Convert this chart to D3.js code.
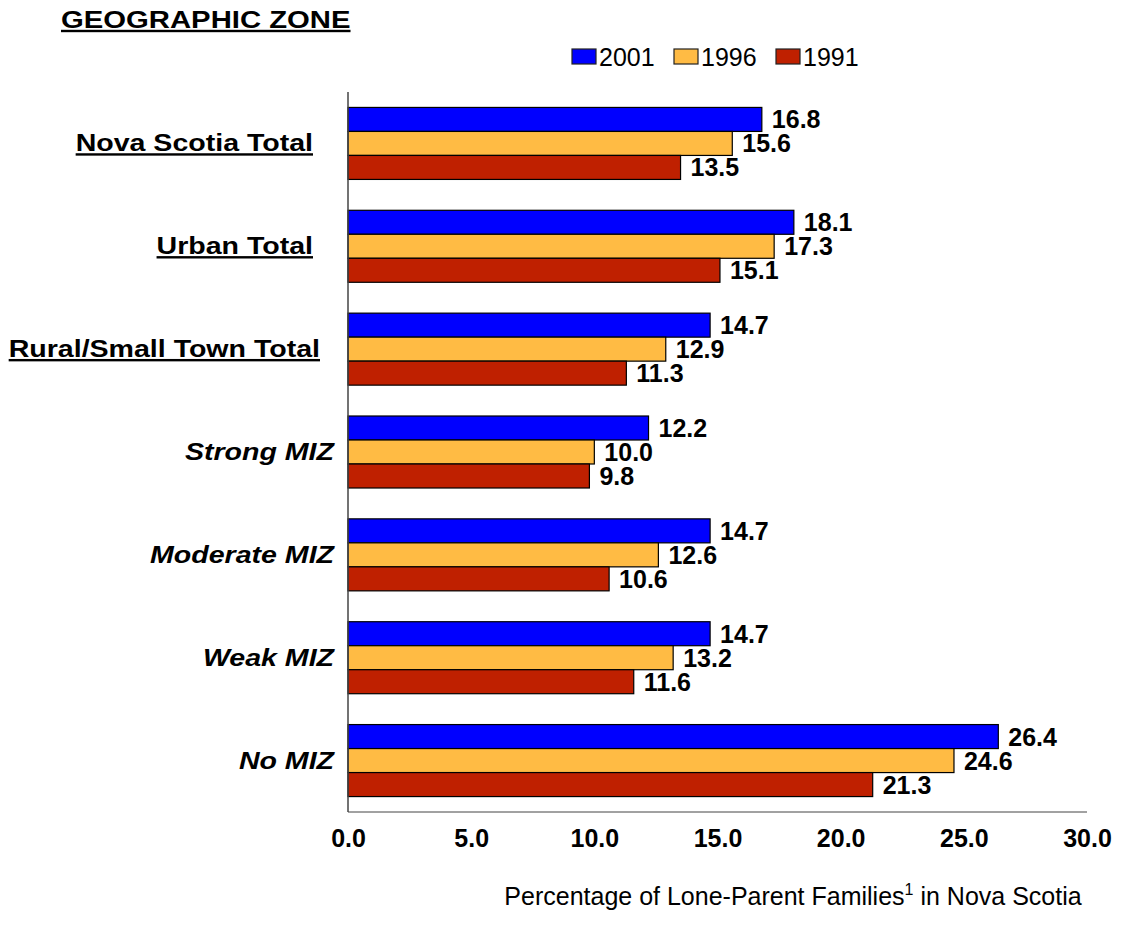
<!DOCTYPE html>
<html>
<head>
<meta charset="utf-8">
<script src="https://cdn.jsdelivr.net/npm/d3@7"></script>
<style>
  html, body { margin: 0; padding: 0; background: #fff; }
  svg { display: block; font-family: "Liberation Sans", Arial, sans-serif; }
</style>
</head>
<body>
<svg id="chart" width="1122" height="943"></svg>
<script>
const categories = ["Nova Scotia Total", "Urban Total", "Rural/Small Town Total", "Strong MIZ", "Moderate MIZ", "Weak MIZ", "No MIZ"];
const categoryStyle = ["total", "total", "total", "miz", "miz", "miz", "miz"];
const seriesNames = ["2001", "1996", "1991"];
const values2001 = [16.8, 18.1, 14.7, 12.2, 14.7, 14.7, 26.4];
const values1996 = [15.6, 17.3, 12.9, 10.0, 12.6, 13.2, 24.6];
const values1991 = [13.5, 15.1, 11.3, 9.8, 10.6, 11.6, 21.3];
const seriesColors = ["#0000FF", "#FFBB44", "#BF2000"];
const xTicks = [0, 5, 10, 15, 20, 25, 30];

(function () {
const seriesValues = [values2001, values1996, values1991];

const svg = d3.select("#chart");
const mLeft = 348, mRight = 1087, mTop = 92, mBottom = 812;
const stretch = 1.19;

const x = d3.scaleLinear().domain([0, 30]).range([mLeft, mRight]);
const y = d3.scaleBand().domain(categories).range([mTop, mBottom]).paddingInner(0.3).paddingOuter(0.15);
const ySub = d3.scaleBand().domain(seriesNames).range([0, y.bandwidth()]);

// Title
svg.append("text")
  .attr("transform", `translate(61,28) scale(1.22,1)`)
  .attr("font-size", 24).attr("font-weight", "bold")
  .attr("text-decoration", "underline")
  .text("GEOGRAPHIC ZONE");

// Legend
const legend = svg.append("g");
const legendX = [572, 674, 776];
seriesNames.forEach((s, i) => {
  legend.append("rect")
    .attr("x", legendX[i]).attr("y", 49).attr("width", 24).attr("height", 15)
    .attr("fill", seriesColors[i]).attr("stroke", "#222").attr("stroke-width", 1.2);
  legend.append("text")
    .attr("x", legendX[i] + 27).attr("y", 66)
    .attr("font-size", 25)
    .text(s);
});

// Bars
const groups = svg.append("g").selectAll("g")
  .data(categories)
  .join("g")
  .attr("transform", d => `translate(0,${y(d)})`);

groups.each(function(cat, ci) {
  const g = d3.select(this);
  seriesNames.forEach((s, si) => {
    const v = seriesValues[si][ci];
    g.append("rect")
      .attr("x", x(0)).attr("y", ySub(s))
      .attr("width", x(v) - x(0)).attr("height", ySub.bandwidth())
      .attr("fill", seriesColors[si])
      .attr("stroke", "#000").attr("stroke-width", 1.2);
  });
  seriesNames.forEach((s, si) => {
    const v = seriesValues[si][ci];
    g.append("text")
      .attr("x", x(v) + 10).attr("y", ySub(s) + ySub.bandwidth() / 2)
      .attr("dy", "0.36em")
      .attr("font-size", 25).attr("font-weight", "bold")
      .text(v.toFixed(1));
  });
});

// Axis lines
svg.append("line")
  .attr("x1", mLeft).attr("x2", mLeft).attr("y1", mTop).attr("y2", mBottom)
  .attr("stroke", "#444").attr("stroke-width", 1.5);
svg.append("line")
  .attr("x1", mLeft).attr("x2", mRight).attr("y1", mBottom).attr("y2", mBottom)
  .attr("stroke", "#444").attr("stroke-width", 1);

// Category labels
categories.forEach((c, i) => {
  const isTotal = categoryStyle[i] === "total";
  const ax0 = isTotal ? (c === "Rural/Small Town Total" ? 320 : 313) : 334;
  const ay = y(c) + y.bandwidth() / 2 + 8;
  svg.append("text")
    .attr("transform", `translate(${ax0},${ay}) scale(${stretch},1)`)
    .attr("text-anchor", "end")
    .attr("font-size", 24).attr("font-weight", "bold")
    .attr("font-style", isTotal ? "normal" : "italic")
    .attr("text-decoration", isTotal ? "underline" : "none")
    .text(c);
});

// X axis tick labels
const xAxis = d3.axisBottom(x).tickValues(xTicks).tickFormat(d3.format(".1f")).tickSize(0).tickPadding(0);
const ax = svg.append("g").attr("transform", `translate(0,${mBottom + 17})`).call(xAxis);
ax.select(".domain").remove();
ax.selectAll("text")
  .attr("font-size", 25).attr("font-weight", "bold")
  .attr("font-family", "Liberation Sans, Arial, sans-serif")
  .attr("fill", "#000");

// Axis title
const t = svg.append("text")
  .attr("x", 793).attr("y", 905)
  .attr("text-anchor", "middle")
  .attr("font-size", 25);
t.append("tspan").text("Percentage of Lone-Parent Families");
t.append("tspan").attr("font-size", 16).attr("dy", -10).text("1");
t.append("tspan").attr("dy", 10).text(" in Nova Scotia");
})();
</script>
</body>
</html>
